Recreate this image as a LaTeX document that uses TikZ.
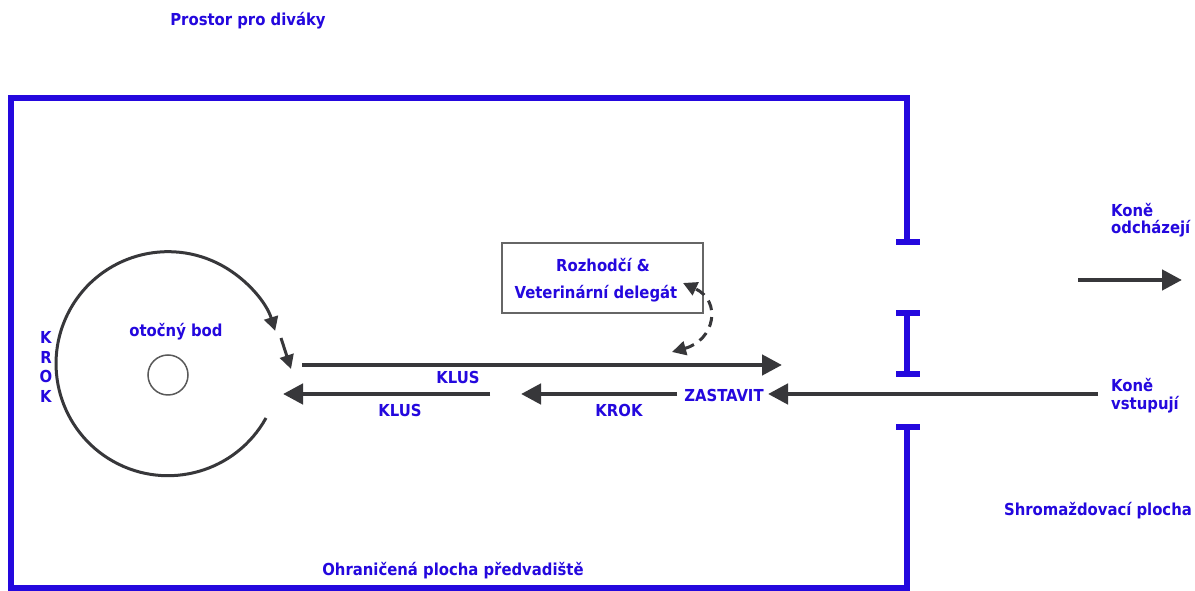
\documentclass[tikz,border=0pt]{standalone}
\usepackage{fontspec}
\setmainfont{DejaVu Sans Condensed}[BoldFont={DejaVu Sans Condensed Bold}]
\usetikzlibrary{arrows.meta}
\definecolor{lblue}{RGB}{36,8,222}
\definecolor{arrgray}{RGB}{55,55,58}
\tikzset{
  lab/.style={text=lblue, font=\bfseries\fontsize{16.5}{16.5}\selectfont, inner sep=0pt},
  wall/.style={draw=lblue, line width=6pt},
  bigarrow/.style={draw=arrgray, line width=4.5pt, -{Triangle[length=20pt,width=20pt]}},
  smallarrow/.style={draw=arrgray, line width=3pt, -{Triangle[length=14pt,width=14pt]}},
  dasharrow/.style={draw=arrgray, line width=3pt, dashed, dash pattern=on 10pt off 7pt, {Triangle[length=14pt,width=14pt]}-{Triangle[length=14pt,width=14pt]}},
}
\begin{document}
\begin{tikzpicture}[x=1pt,y=1pt]
\useasboundingbox[fill=white] (0,0) rectangle (1195,591);
% walls
\draw[wall, line join=miter] (907,349) -- (907,493) -- (11,493) -- (11,3) -- (907,3) -- (907,164);
\draw[wall] (896,349) -- (920,349);
\draw[wall] (896,164) -- (920,164);
\draw[wall] (907,278) -- (907,217);
\draw[wall] (896,278) -- (920,278);
\draw[wall] (896,217) -- (920,217);
% labels
\node[lab] (prostor) at (248,570) {Prostor pro diváky};
\node[lab, align=center, font=\bfseries\fontsize{16.5}{19.5}\selectfont] (krokv) at (46,224) {K\\R\\O\\K};
\node[lab] (otocny) at (176,259) {otočný bod};
\node[lab] (klus1) at (458,214) {KLUS};
\node[lab] (klus2) at (400,181) {KLUS};
\node[lab] (krok) at (619,181) {KROK};
\node[lab] (zastavit) at (724,196) {ZASTAVIT};
\node[lab, anchor=west, align=left, font=\bfseries\fontsize{16.5}{17}\selectfont] (odch) at (1111,371) {Koně\\odcházejí};
\node[lab, anchor=west, align=left, font=\bfseries\fontsize{16.5}{18}\selectfont] (vstup) at (1111,195) {Koně\\vstupují};
\node[lab] (shrom) at (1098,80) {Shromaždovací plocha};
\node[lab] (ohran) at (453,20) {Ohraničená plocha předvadiště};
% judges box
\draw[draw=gray!80!black, line width=1.5pt] (502,278) rectangle (703,348);
\node[lab] (rozh) at (603,326) {Rozhodčí \&};
\node[lab] (vet) at (596,297) {Veterinární delegát};
% pivot
\node[draw=gray!70!black, line width=1.5pt, circle, minimum size=40pt, inner sep=0pt] (pivot) at (168,216) {};
% circle arc
\coordinate (arcstart) at (266,173);
\coordinate (arcend) at (281,253);
\coordinate (arcend2) at (291,222);
\draw[smallarrow] (arcstart) arc[start angle=-29, end angle=-343, radius=112];
\draw[smallarrow] (arcend) -- (arcend2);
% straight arrows
\coordinate (k1s) at (302,226); \coordinate (k1e) at (782,226);
\coordinate (k2s) at (490,197); \coordinate (k2e) at (283,197);
\coordinate (k3s) at (677,197); \coordinate (k3e) at (521,197);
\coordinate (ins) at (1098,197); \coordinate (ine) at (768,197);
\coordinate (outs) at (1078,311); \coordinate (oute) at (1182,311);
\draw[bigarrow] (k1s) -- (k1e);
\draw[bigarrow] (k2s) -- (k2e);
\draw[bigarrow] (k3s) -- (k3e);
\draw[bigarrow] (ins) -- (ine);
\draw[bigarrow] (outs) -- (oute);
% dashed curved arrow
\coordinate (ds) at (672,239);
\coordinate (de) at (683,308);
\draw[dasharrow] (ds) .. controls (715,251) and (722,290) .. (de);
\end{tikzpicture}
\end{document}
